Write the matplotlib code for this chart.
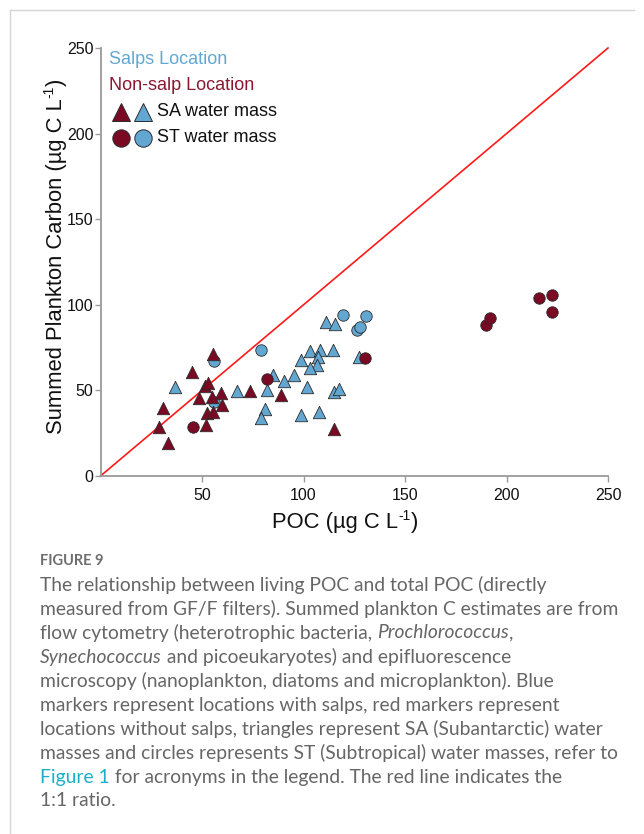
import matplotlib
matplotlib.use("Agg")
import matplotlib.pyplot as plt
from matplotlib.lines import Line2D

plt.rcParams['font.family'] = ['Liberation Sans', 'DejaVu Sans']

# ---------------- data ----------------
blue_tri_x = [36.9, 67.2, 82.0, 84.9, 90.6, 95.1, 80.8, 79.2, 98.9, 103.3, 107.9, 106.9,
              106.6, 103.0, 101.7, 98.9, 107.4, 114.5, 114.8, 117.4, 111.2, 115.6, 127.3]
blue_tri_y = [51.7, 49.8, 50.5, 58.9, 55.5, 58.9, 39.0, 34.0, 67.6, 73.0, 73.8, 69.5,
              65.1, 62.8, 51.7, 35.5, 37.1, 73.8, 49.1, 51.1, 89.9, 88.6, 69.5]

blue_circ_x = [56.1, 56.1, 79.3, 119.5, 126.3, 127.6, 130.6]
blue_circ_y = [67.2, 43.3, 73.4, 94.0, 85.5, 87.0, 93.6]

red_tri_x = [28.6, 30.8, 33.3, 44.9, 48.3, 51.6, 53.1, 54.9, 59.5, 59.8, 52.5, 55.4,
             51.9, 55.4, 73.8, 89.0, 114.8]
red_tri_y = [28.9, 39.7, 19.4, 60.9, 45.5, 52.4, 54.2, 46.4, 48.7, 41.6, 36.7, 37.5,
             29.9, 71.4, 49.4, 47.4, 27.2]

red_circ_x = [45.6, 82.0, 130.4, 189.8, 191.9, 216.2, 222.5, 222.4]
red_circ_y = [28.7, 56.5, 68.8, 88.4, 92.5, 104.1, 105.6, 95.6]

x_ticks = [50, 100, 150, 200, 250]
y_ticks = [0, 50, 100, 150, 200, 250]

BLUE = '#62a7d2'
RED = '#7a0a24'
EDGE = '#2b2b2b'
W, H = 644, 834

fig = plt.figure(figsize=(W / 100, H / 100), dpi=100)
renderer = fig.canvas.get_renderer()


def fx(px):
    return px / W


def fy(py):
    return 1 - py / H


def text_w(s, **kw):
    t = fig.text(0, 0, s, **kw)
    w = t.get_window_extent(renderer=renderer).width
    t.remove()
    return w


ax_l, ax_r, ax_t, ax_b = 100.5, 608, 48, 476
ax = fig.add_axes([fx(ax_l), fy(ax_b), fx(ax_r) - fx(ax_l), fy(ax_t) - fy(ax_b)])
ax.set_xlim(0, 250)
ax.set_ylim(0, 250)

ax.plot([0, 250], [0, 250], color='#ff1a1a', lw=1.2, zorder=2, clip_on=False)

ax.scatter(blue_tri_x, blue_tri_y, marker='^', s=80, c=BLUE, edgecolors=EDGE,
           linewidths=0.6, zorder=3, clip_on=False)
ax.scatter(blue_circ_x, blue_circ_y, marker='o', s=68, c=BLUE, edgecolors=EDGE,
           linewidths=0.6, zorder=3, clip_on=False)
ax.scatter(red_tri_x, red_tri_y, marker='^', s=80, c=RED, edgecolors=EDGE,
           linewidths=0.6, zorder=4, clip_on=False)
ax.scatter(red_circ_x, red_circ_y, marker='o', s=68, c=RED, edgecolors=EDGE,
           linewidths=0.6, zorder=4, clip_on=False)

for s in ['top', 'right']:
    ax.spines[s].set_visible(False)
for s in ['left', 'bottom']:
    ax.spines[s].set_color('#9a9a9a')
    ax.spines[s].set_linewidth(1.3)
ax.set_xticks(x_ticks)
ax.set_yticks(y_ticks)
ax.tick_params(axis='both', direction='out', length=4, width=1.0, color='#9a9a9a',
               labelsize=11.5, labelcolor='#111111')
ax.tick_params(axis='y', pad=1.0)
ax.tick_params(axis='x', pad=5)

# axis labels with a small hyphen superscript
LFS, SFS, RAISE = 15.8, 10, 8.5
xl_main, xl_sup, xl_end = 'POC (µg C L', '-1', ')'
yl_main, yl_sup, yl_end = 'Summed Plankton Carbon (µg C L', '-1', ')'

w1 = text_w(xl_main, fontsize=LFS)
w2 = text_w(xl_sup, fontsize=SFS)
w3 = text_w(xl_end, fontsize=LFS)
x0 = 345 - (w1 + w2 + w3) / 2
base = 528
fig.text(fx(x0), fy(base), xl_main, fontsize=LFS, va='baseline', ha='left', color='#111111')
fig.text(fx(x0 + w1), fy(base - RAISE), xl_sup, fontsize=SFS, va='baseline', ha='left', color='#111111')
fig.text(fx(x0 + w1 + w2), fy(base), xl_end, fontsize=LFS, va='baseline', ha='left', color='#111111')

w1 = text_w(yl_main, fontsize=LFS)
w2 = text_w(yl_sup, fontsize=SFS)
w3 = text_w(yl_end, fontsize=LFS)
ys = 256 + (w1 + w2 + w3) / 2
bx = 62
kw = dict(rotation=90, rotation_mode='anchor', va='baseline', ha='left', color='#111111')
fig.text(fx(bx), fy(ys), yl_main, fontsize=LFS, **kw)
fig.text(fx(bx - RAISE), fy(ys - w1), yl_sup, fontsize=SFS, **kw)
fig.text(fx(bx), fy(ys - w1 - w2), yl_end, fontsize=LFS, **kw)

# legend (custom)
fig.text(fx(109), fy(59), 'Salps Location', color=BLUE, fontsize=13, va='center')
fig.text(fx(109), fy(86), 'Non-salp Location', color='#8a1830', fontsize=13, va='center')
leg_items = [('^', 112, 'SA water mass'), ('o', 138, 'ST water mass')]
for mk, py, label in leg_items:
    for px, col in [(121, RED), (143, BLUE)]:
        fig.add_artist(Line2D([fx(px)], [fy(py)], marker=mk, markersize=13.5 if mk == '^' else 12.5,
                              markerfacecolor=col, markeredgecolor=EDGE, markeredgewidth=0.7,
                              linestyle='none', transform=fig.transFigure))
    fig.text(fx(157), fy(py - 1), label, fontsize=13, va='center', color='#111111')

# frame lines
fig.add_artist(Line2D([fx(9.5), fx(9.5)], [fy(9.5), fy(834)], color='#d6d6d6', lw=1.0,
                      transform=fig.transFigure))
fig.add_artist(Line2D([fx(9.5), fx(634)], [fy(9.5), fy(9.5)], color='#d6d6d6', lw=1.0,
                      transform=fig.transFigure))

# caption
CAP = '#666666'
LINK = '#1ab0c9'
cap_font = ['Lato', 'DejaVu Sans']
fig.text(fx(40), fy(561), 'FIGURE 9', fontsize=10.5, fontweight='bold', color='#6e6e6e',
         family=cap_font, va='center')

lines = [
    [('The relationship between living POC and total POC (directly', 'normal', CAP)],
    [('measured from GF/F filters). Summed plankton C estimates are from', 'normal', CAP)],
    [('flow cytometry (heterotrophic bacteria, ', 'normal', CAP), ('Prochlorococcus', 'italic', CAP),
     (',', 'normal', CAP)],
    [('Synechococcus', 'italic', CAP), (' and picoeukaryotes) and epifluorescence', 'normal', CAP)],
    [('microscopy (nanoplankton, diatoms and microplankton). Blue', 'normal', CAP)],
    [('markers represent locations with salps, red markers represent', 'normal', CAP)],
    [('locations without salps, triangles represent SA (Subantarctic) water', 'normal', CAP)],
    [('masses and circles represents ST (Subtropical) water masses, refer to', 'normal', CAP)],
    [('Figure 1', 'normal', LINK), (' for acronyms in the legend. The red line indicates the', 'normal', CAP)],
    [('1:1 ratio.', 'normal', CAP)],
]
y0 = 585
for i, segs in enumerate(lines):
    py = y0 + 24 * i
    x = 40.0
    for txt, style, col in segs:
        t = fig.text(fx(x), fy(py), txt, fontsize=13.9, style=style, color=col, family=cap_font,
                     va='center', ha='left')
        bb = t.get_window_extent(renderer=renderer)
        x += bb.width

fig.savefig('out.png', dpi=100)
